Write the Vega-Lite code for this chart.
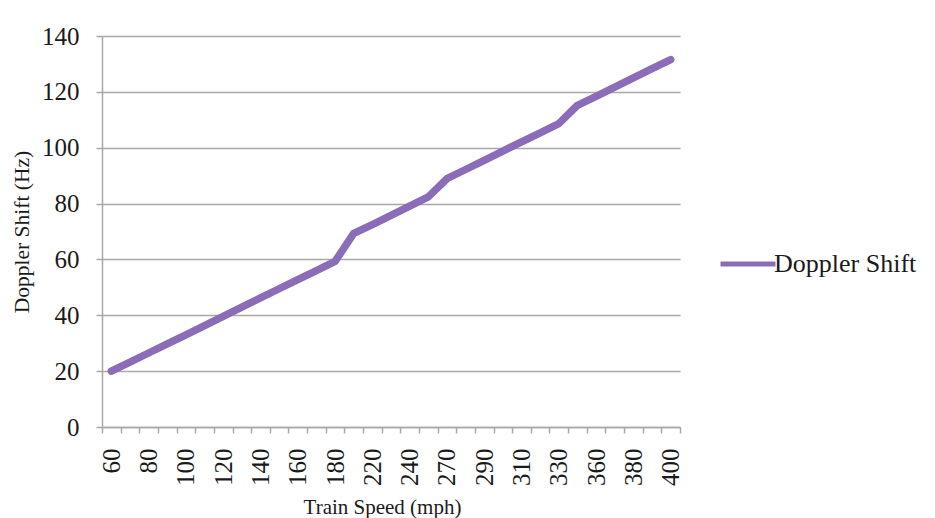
{
  "$schema": "https://vega.github.io/schema/vega-lite/v6.json",
  "autosize": {"type": "none"},
  "width": 578,
  "height": 391,
  "padding": {"left": 102, "top": 36, "right": 255, "bottom": 91},
  "background": "white",
  "data": {
    "values": [
      {"speed": 60, "shift": 20.0, "series": "Doppler Shift"},
      {"speed": 70, "shift": 23.2, "series": "Doppler Shift"},
      {"speed": 80, "shift": 26.5, "series": "Doppler Shift"},
      {"speed": 90, "shift": 29.8, "series": "Doppler Shift"},
      {"speed": 100, "shift": 33.0, "series": "Doppler Shift"},
      {"speed": 110, "shift": 36.3, "series": "Doppler Shift"},
      {"speed": 120, "shift": 39.6, "series": "Doppler Shift"},
      {"speed": 130, "shift": 42.9, "series": "Doppler Shift"},
      {"speed": 140, "shift": 46.2, "series": "Doppler Shift"},
      {"speed": 150, "shift": 49.5, "series": "Doppler Shift"},
      {"speed": 160, "shift": 52.8, "series": "Doppler Shift"},
      {"speed": 170, "shift": 56.0, "series": "Doppler Shift"},
      {"speed": 180, "shift": 59.3, "series": "Doppler Shift"},
      {"speed": 210, "shift": 69.3, "series": "Doppler Shift"},
      {"speed": 220, "shift": 72.5, "series": "Doppler Shift"},
      {"speed": 230, "shift": 75.8, "series": "Doppler Shift"},
      {"speed": 240, "shift": 79.1, "series": "Doppler Shift"},
      {"speed": 250, "shift": 82.4, "series": "Doppler Shift"},
      {"speed": 270, "shift": 88.9, "series": "Doppler Shift"},
      {"speed": 280, "shift": 92.2, "series": "Doppler Shift"},
      {"speed": 290, "shift": 95.5, "series": "Doppler Shift"},
      {"speed": 300, "shift": 98.8, "series": "Doppler Shift"},
      {"speed": 310, "shift": 102.1, "series": "Doppler Shift"},
      {"speed": 320, "shift": 105.3, "series": "Doppler Shift"},
      {"speed": 330, "shift": 108.6, "series": "Doppler Shift"},
      {"speed": 350, "shift": 115.2, "series": "Doppler Shift"},
      {"speed": 360, "shift": 118.4, "series": "Doppler Shift"},
      {"speed": 370, "shift": 121.7, "series": "Doppler Shift"},
      {"speed": 380, "shift": 125.0, "series": "Doppler Shift"},
      {"speed": 390, "shift": 128.3, "series": "Doppler Shift"},
      {"speed": 400, "shift": 131.5, "series": "Doppler Shift"}
    ]
  },
  "mark": {"type": "line", "strokeWidth": 7.5, "strokeCap": "round", "strokeJoin": "round"},
  "encoding": {
    "x": {
      "field": "speed",
      "type": "ordinal",
      "sort": "ascending",
      "scale": {"type": "band", "paddingInner": 0, "paddingOuter": 0},
      "axis": {
        "title": "Train Speed (mph)",
        "labelAngle": -90,
        "labelAlign": "right",
        "labelBaseline": "middle",
        "labelPadding": 15,
        "labelExpr": "indexof([60,80,100,120,140,160,180,220,240,270,290,310,330,360,380,400], datum.value) >= 0 ? datum.label : ''",
        "tickBand": "extent",
        "tickSize": 6,
        "grid": false,
        "titleX": 280,
        "titleY": 69,
        "titleBaseline": "top",
        "titleAlign": "center"
      }
    },
    "y": {
      "field": "shift",
      "type": "quantitative",
      "scale": {"domain": [0, 140], "nice": false},
      "axis": {
        "title": "Doppler Shift (Hz)",
        "values": [0, 20, 40, 60, 80, 100, 120, 140],
        "tickSize": 6,
        "labelPadding": 17,
        "grid": true,
        "titleX": -69,
        "titleY": 195.5,
        "titleBaseline": "bottom",
        "titleAlign": "center",
        "titleAngle": -90,
        "titleFontSize": 21.5
      }
    },
    "color": {
      "field": "series",
      "type": "nominal",
      "scale": {"range": ["#8a6cb8"]},
      "legend": {
        "title": null,
        "orient": "none",
        "legendX": 616,
        "legendY": 198,
        "symbolType": "stroke",
        "symbolSize": 3025,
        "symbolStrokeWidth": 5,
        "labelOffset": -4,
        "labelFontSize": 26,
        "labelFont": "Liberation Serif",
        "labelColor": "#1a1a1a"
      }
    }
  },
  "config": {
    "view": {"stroke": null},
    "axis": {
      "domainColor": "#a8a8a8",
      "domainWidth": 1.5,
      "tickColor": "#a8a8a8",
      "tickWidth": 1.5,
      "gridColor": "#a8a8a8",
      "gridWidth": 1.5,
      "labelFont": "Liberation Serif",
      "labelFontSize": 25,
      "labelColor": "#1a1a1a",
      "titleFont": "Liberation Serif",
      "titleFontSize": 21,
      "titleFontWeight": "normal",
      "titleColor": "#1a1a1a"
    }
  }
}
